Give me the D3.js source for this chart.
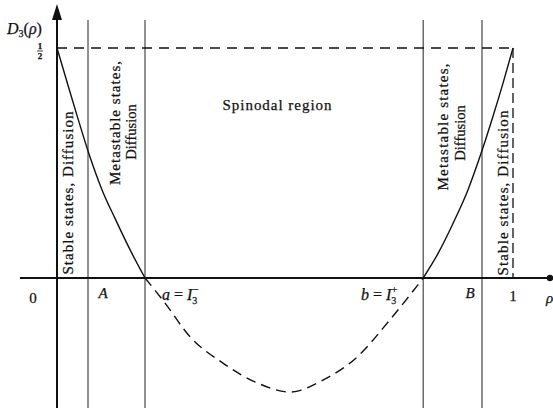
<!DOCTYPE html>
<html>
<head>
<meta charset="utf-8">
<script src="https://cdn.jsdelivr.net/npm/d3@7"></script>
<style>
  body { margin: 0; background: #fff; }
  svg { display: block; }
  text { font-family: "Liberation Serif", "Times New Roman", serif; fill: #111; stroke: #111; stroke-width: 0.25; }
</style>
</head>
<body>
<script>
// valeurs (rho, D3)
var rhoLeft  = [0, 0.022, 0.044, 0.07, 0.099, 0.128, 0.164, 0.193];
var dLeft    = [0.5, 0.426, 0.353, 0.27, 0.191, 0.128, 0.054, 0];
var rhoMid   = [0.193, 0.232, 0.292, 0.364, 0.439, 0.511, 0.583, 0.658, 0.730, 0.774, 0.803];
var dMid     = [0, -0.048, -0.128, -0.185, -0.228, -0.248, -0.222, -0.172, -0.091, -0.037, 0];
var rhoRight = [0.803, 0.836, 0.872, 0.901, 0.930, 0.956, 0.978, 1.0];
var dRight   = [0, 0.054, 0.126, 0.191, 0.271, 0.351, 0.423, 0.5];

// bornes des regions
var boundNames = ["A", "a", "b", "B"];
var boundRho   = [0.068, 0.193, 0.803, 0.932];

var width = 553, height = 408;

var xScale = d3.scaleLinear().domain([0, 1]).range([57, 513]);
var yScale = d3.scaleLinear().domain([0, 0.5]).range([278, 48]);

var svg = d3.select("body").append("svg")
    .attr("width", width)
    .attr("height", height);

function pts(rs, ds) {
  return rs.map(function(r, i) { return [r, ds[i]]; });
}

var line = d3.line()
    .x(function(d) { return xScale(d[0]); })
    .y(function(d) { return yScale(d[1]); })
    .curve(d3.curveMonotoneX);

// lignes verticales des regions
svg.selectAll("line.bound")
    .data(boundRho)
    .enter().append("line")
    .attr("class", "bound")
    .attr("x1", function(d) { return xScale(d); })
    .attr("x2", function(d) { return xScale(d); })
    .attr("y1", 20)
    .attr("y2", height)
    .attr("stroke", "#222")
    .attr("stroke-width", 1);

// pointilles a 1/2 et rho = 1
svg.append("line")
    .attr("x1", xScale(0)).attr("x2", xScale(1))
    .attr("y1", yScale(0.5)).attr("y2", yScale(0.5))
    .attr("stroke", "#111").attr("stroke-width", 1.3)
    .attr("stroke-dasharray", "10,7");
svg.append("line")
    .attr("x1", xScale(1)).attr("x2", xScale(1))
    .attr("y1", yScale(0.5)).attr("y2", yScale(0))
    .attr("stroke", "#111").attr("stroke-width", 1.3)
    .attr("stroke-dasharray", "10,5");

// axes
svg.append("line")
    .attr("x1", 20).attr("x2", 549)
    .attr("y1", yScale(0)).attr("y2", yScale(0))
    .attr("stroke", "#111").attr("stroke-width", 2);
svg.append("circle")
    .attr("cx", 550).attr("cy", yScale(0)).attr("r", 3.2)
    .attr("fill", "#111");
svg.append("line")
    .attr("x1", xScale(0)).attr("x2", xScale(0))
    .attr("y1", height).attr("y2", 16)
    .attr("stroke", "#111").attr("stroke-width", 2);
svg.append("path")
    .attr("d", "M" + xScale(0) + ",4 L" + (xScale(0) - 5) + ",20 L" + (xScale(0) + 5) + ",20 Z")
    .attr("fill", "#111");

// courbe D3(rho)
svg.append("path")
    .datum(pts(rhoLeft, dLeft))
    .attr("d", line)
    .attr("fill", "none").attr("stroke", "#111").attr("stroke-width", 1.4);
svg.append("path")
    .datum(pts(rhoMid, dMid))
    .attr("d", line)
    .attr("fill", "none").attr("stroke", "#111").attr("stroke-width", 1.4)
    .attr("stroke-dasharray", "10,6");
svg.append("path")
    .datum(pts(rhoRight, dRight))
    .attr("d", line)
    .attr("fill", "none").attr("stroke", "#111").attr("stroke-width", 1.4);

// textes
var lab = svg.append("text").attr("x", 7).attr("y", 34).attr("font-size", 16);
lab.append("tspan").attr("font-style", "italic").text("D");
lab.append("tspan").attr("font-size", 10).attr("dy", 3).text("3");
lab.append("tspan").attr("dy", -3).text("(");
lab.append("tspan").attr("font-style", "italic").text("ρ");
lab.append("tspan").text(")");

svg.append("text").attr("x", 40).attr("y", 49).attr("font-size", 9)
    .attr("font-weight", "bold").attr("text-anchor", "middle").text("1");
svg.append("line").attr("x1", 37).attr("x2", 43).attr("y1", 51).attr("y2", 51)
    .attr("stroke", "#111").attr("stroke-width", 0.8);
svg.append("text").attr("x", 40).attr("y", 59).attr("font-size", 9)
    .attr("font-weight", "bold").attr("text-anchor", "middle").text("2");

svg.append("text").attr("x", 33).attr("y", 303).attr("font-size", 15)
    .attr("text-anchor", "middle").text("0");
svg.append("text").attr("x", xScale(1)).attr("y", 301).attr("font-size", 15)
    .attr("text-anchor", "middle").text("1");
svg.append("text").attr("x", 546).attr("y", 303).attr("font-size", 15)
    .attr("font-style", "italic").text("ρ");

svg.append("text").attr("x", 103).attr("y", 298).attr("font-size", 15)
    .attr("font-style", "italic").attr("text-anchor", "middle").text(boundNames[0]);
svg.append("text").attr("x", 470).attr("y", 298).attr("font-size", 15)
    .attr("font-style", "italic").attr("text-anchor", "middle").text(boundNames[3]);

function limLabel(x, name, sign) {
  var t = svg.append("text").attr("x", x).attr("y", 300).attr("font-size", 16);
  t.append("tspan").attr("font-style", "italic").text(name);
  t.append("tspan").text(" = ");
  t.append("tspan").attr("font-style", "italic").text("I");
  t.append("tspan").attr("font-size", 10).attr("dy", 4).text("3");
  t.append("tspan").attr("font-size", 11).attr("dx", -5).attr("dy", -11).text(sign);
}
limLabel(162, boundNames[1], "−");
limLabel(361, boundNames[2], "+");

svg.append("text").attr("x", 277).attr("y", 110).attr("font-size", 15)
    .attr("text-anchor", "middle").attr("textLength", 109).text("Spinodal region");

var vtexts = [
  {t: "Stable states, Diffusion", x: 68, y: 193, len: 163, fs: 15},
  {t: "Metastable states,", x: 115, y: 123, len: 124, fs: 15},
  {t: "Diffusion", x: 131, y: 132, len: null, fs: 14.5},
  {t: "Metastable states,", x: 443, y: 127, len: 127, fs: 15},
  {t: "Diffusion", x: 460, y: 133, len: null, fs: 14.5},
  {t: "Stable states, Diffusion", x: 503, y: 193, len: 165, fs: 15}
];
svg.selectAll("text.vert")
    .data(vtexts)
    .enter().append("text")
    .attr("class", "vert")
    .attr("transform", function(d) { return "translate(" + d.x + "," + d.y + ") rotate(-90)"; })
    .attr("text-anchor", "middle")
    .attr("dy", "0.35em")
    .attr("font-size", function(d) { return d.fs; })
    .attr("textLength", function(d) { return d.len; })
    .text(function(d) { return d.t; });
</script>
</body>
</html>
